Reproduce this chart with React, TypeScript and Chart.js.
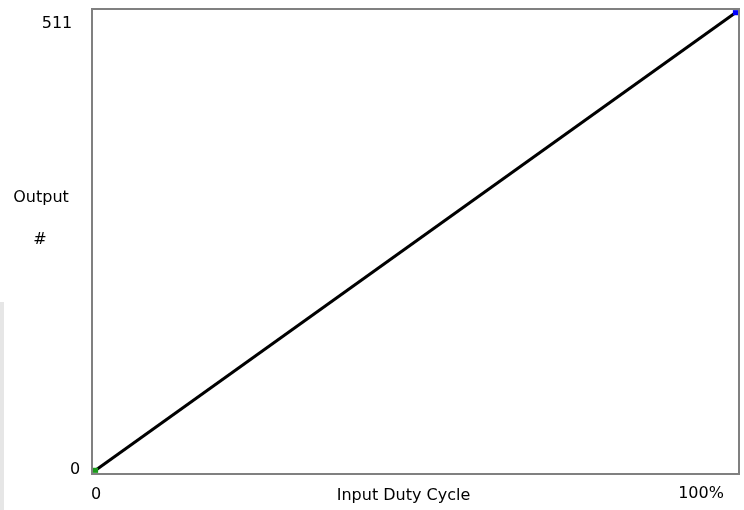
import React, { useEffect, useRef } from "react";
import { Chart, registerables } from "chart.js";

Chart.register(...registerables);

const dutyCycle = [0, 100];
const outputValues = [0, 511];
const xTickLabels = ["0", "100%"];
const yTickLabels = ["0", "511"];
const xTitle = "Input Duty Cycle";
const yTitleLines = ["Output", "#"];

const FONT = "16px 'DejaVu Sans', sans-serif";

const decorPlugin = {
  id: "decor",
  beforeDatasetsDraw(chart: any) {
    const { ctx, chartArea } = chart;
    const { left, top, right, bottom } = chartArea;
    ctx.save();
    ctx.strokeStyle = "#808080";
    ctx.lineWidth = 2;
    ctx.strokeRect(left - 1, top - 1, right - left + 2, bottom - top + 2);
    ctx.restore();
  },
  afterDraw(chart: any) {
    const { ctx, chartArea } = chart;
    const { left, top, right, bottom } = chartArea;
    ctx.save();
    ctx.font = FONT;
    ctx.fillStyle = "#000";
    ctx.textBaseline = "middle";
    ctx.textAlign = "center";
    ctx.fillText(yTickLabels[1], left - 36, top + 14);
    ctx.fillText(yTickLabels[0], left - 18, bottom - 3);
    ctx.fillText(xTickLabels[0], left + 3, bottom + 22);
    ctx.fillText(xTickLabels[1], right - 37, bottom + 21);
    ctx.fillText(xTitle, (left + right) / 2 - 12, bottom + 23);
    ctx.fillText(yTitleLines[0], 41, 198);
    ctx.fillText(yTitleLines[1], 40, 240);
    ctx.restore();
  },
};

export default function App() {
  const ref = useRef<HTMLCanvasElement>(null);
  useEffect(() => {
    if (!ref.current) return;
    const chart = new Chart(ref.current, {
      type: "line",
      data: {
        datasets: [
          {
            data: dutyCycle.map((x, i) => ({ x, y: outputValues[i] })),
            borderColor: "#000",
            borderWidth: 3,
            pointRadius: 0,
            clip: false as any,
            order: 2,
          },
          {
            type: "scatter",
            data: [{ x: dutyCycle[0], y: outputValues[0] }],
            pointStyle: "rect",
            pointRadius: 3.6,
            backgroundColor: "#1a9a1a",
            borderColor: "#1a9a1a",
            borderWidth: 0,
            clip: false as any,
            order: 1,
          } as any,
          {
            type: "scatter",
            data: [{ x: dutyCycle[1], y: outputValues[1] }],
            pointStyle: "rect",
            pointRadius: 3.6,
            backgroundColor: "#0000ff",
            borderColor: "#0000ff",
            borderWidth: 0,
            clip: false as any,
            order: 1,
          } as any,
        ],
      },
      options: {
        responsive: false,
        animation: false,
        layout: { padding: { left: 93, top: 10, right: 6, bottom: 37 } },
        plugins: { legend: { display: false }, tooltip: { enabled: false } },
        scales: {
          x: { type: "linear", min: -0.4, max: 100.4, display: false },
          y: { type: "linear", min: -3, max: 514, display: false },
        },
      },
      plugins: [decorPlugin],
    });
    return () => chart.destroy();
  }, []);
  return (
    <div style={{ position: "fixed", left: 0, top: 0, width: 744, height: 510, background: "#fff" }}>
      <div style={{ position: "absolute", left: 0, top: 302, width: 4, height: 208, background: "#e6e6e6" }} />
      <canvas ref={ref} width={744} height={510} style={{ position: "absolute", left: 0, top: 0 }} />
    </div>
  );
}
